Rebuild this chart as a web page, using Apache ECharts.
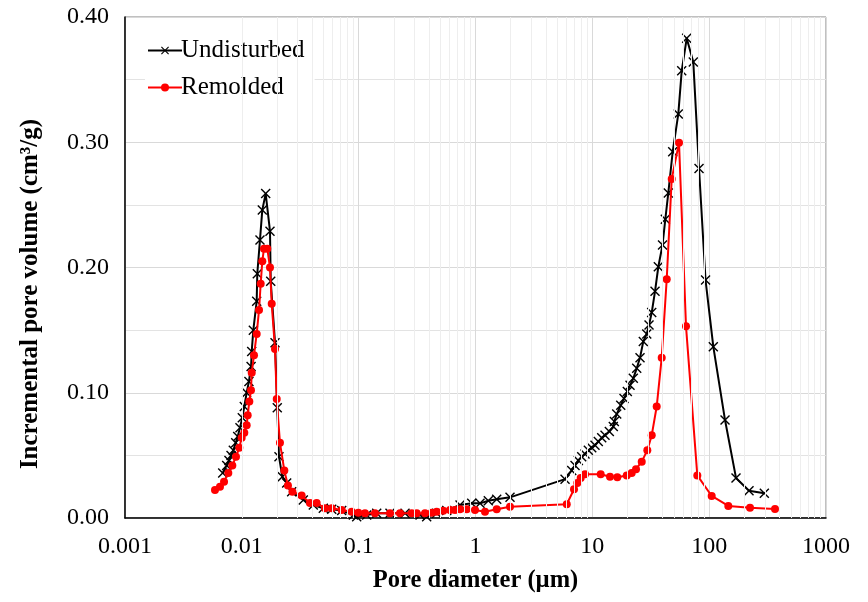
<!DOCTYPE html>
<html>
<head>
<meta charset="utf-8">
<script src="https://cdn.jsdelivr.net/npm/echarts@6/dist/echarts.min.js"></script>
<style>html,body{margin:0;padding:0;background:#fff}#c{width:868px;height:602px}</style>
</head>
<body>
<div id="c"></div>
<script>
// Undisturbed: pore diameter (µm) and incremental pore volume (cm³/g)
const undistD = [0.00686,0.00742,0.00776,0.00808,0.00845,0.00886,0.00922,0.00964,0.01009,0.0105,0.0110,0.0115,0.0120,0.01215,0.01254,0.0134,0.01356,0.0143,0.01497,0.0160,0.01742,0.01767,0.01923,0.0201,0.0208,0.0222,0.0242,0.0267,0.0336,0.0409,0.0498,0.0588,0.0716,0.090,0.0962,0.1172,0.1427,0.1854,0.2493,0.335,0.382,0.4656,0.567,0.737,0.928,1.093,1.287,1.519,1.974,5.84,6.66,7.11,7.59,8.11,8.66,9.24,9.88,10.54,11.25,12.03,12.84,13.98,15.12,15.43,16.17,17.50,18.67,19.93,21.02,22.42,23.98,25.59,27.31,29.21,30.56,32.23,34.40,36.71,39.88,42.13,44.7,48.75,54.44,58.21,64.23,73.16,81.88,93.1,108.5,136.7,169.7,219.3,296.6];
const undistV = [0.036,0.042,0.046,0.050,0.054,0.060,0.065,0.072,0.080,0.089,0.100,0.109,0.121,0.133,0.150,0.173,0.195,0.222,0.246,0.259,0.229,0.189,0.140,0.088,0.049,0.033,0.028,0.021,0.0144,0.0104,0.0077,0.0070,0.0060,0.0024,0.0010,0.0024,0.0037,0.0037,0.0037,0.0024,0.0010,0.0037,0.0060,0.0104,0.0117,0.0117,0.0138,0.0150,0.0165,0.031,0.038,0.042,0.046,0.049,0.051,0.054,0.056,0.058,0.061,0.064,0.066,0.069,0.073,0.077,0.083,0.090,0.0955,0.101,0.106,0.1115,0.1195,0.128,0.141,0.147,0.154,0.164,0.181,0.2006,0.218,0.2385,0.2595,0.2925,0.3226,0.357,0.383,0.364,0.279,0.190,0.1368,0.0782,0.032,0.0218,0.0197];
// Remolded
const remD = [0.00589,0.00650,0.00704,0.00766,0.00829,0.00891,0.00951,0.00997,0.0105,0.0110,0.01122,0.01159,0.01198,0.01215,0.01271,0.0134,0.01403,0.0145,0.01497,0.01548,0.01652,0.01742,0.01802,0.01923,0.01989,0.0212,0.0231,0.0248,0.0271,0.0325,0.0383,0.0437,0.0515,0.0588,0.0716,0.0872,0.0993,0.1133,0.138,0.1855,0.2258,0.2844,0.314,0.3697,0.4219,0.4656,0.530,0.605,0.668,0.737,0.841,0.990,1.206,1.519,1.974,6.04,6.97,7.44,7.95,8.66,11.79,14.17,16.36,19.70,21.73,23.65,26.47,29.55,32.23,35.56,39.25,43.32,47.80,55.20,63.36,79.17,105.1,145.8,223.7,366.1];
const remV = [0.0224,0.025,0.029,0.036,0.042,0.049,0.056,0.064,0.068,0.074,0.082,0.093,0.102,0.116,0.130,0.147,0.166,0.187,0.205,0.215,0.215,0.200,0.171,0.135,0.095,0.060,0.038,0.026,0.021,0.018,0.012,0.012,0.0077,0.0077,0.0064,0.0050,0.0042,0.0037,0.0037,0.0037,0.0037,0.0037,0.0037,0.0037,0.0042,0.0050,0.0058,0.0064,0.0064,0.0070,0.0070,0.0064,0.0050,0.0070,0.0090,0.011,0.023,0.028,0.032,0.035,0.035,0.033,0.0325,0.034,0.036,0.039,0.045,0.054,0.066,0.089,0.128,0.1906,0.2706,0.2997,0.153,0.034,0.0176,0.0096,0.0082,0.0072];
// Axis ticks
const xDecades = [0.001,0.01,0.1,1,10,100,1000];
const xMinorMult = [2,3,4,5,6,7,8,9];

const minorLines = [];
for (let i = 0; i < xDecades.length - 1; i++) {
  for (const m of xMinorMult) minorLines.push({xAxis: xDecades[i] * m});
}

const FONT = 'Liberation Serif';
const chart = echarts.init(document.getElementById('c'), null, {renderer: 'canvas'});
const xSym = 'path://M0,1 L1,0 L5,4 L9,0 L10,1 L6,5 L10,9 L9,10 L5,6 L1,10 L0,9 L4,5 Z';

chart.setOption({
  animation: false,
  backgroundColor: '#fff',
  textStyle: {fontFamily: FONT},
  grid: {left: 125, right: 42, top: 17, bottom: 84, show: true, borderColor: '#808080', borderWidth: 1, backgroundColor: 'transparent'},
  graphic: [{
    type: 'text', x: 31, y: 294, rotation: Math.PI / 2, z: 10,
    style: {text: 'Incremental pore volume (cm³/g)', fontFamily: FONT, fontSize: 25, fontWeight: 'bold', fill: '#000', align: 'center', verticalAlign: 'middle'}
  }],
  legend: {
    left: 145, top: 34, orient: 'vertical', itemGap: 12, itemWidth: 34, itemHeight: 10,
    backgroundColor: '#fff', padding: [4, 10, 4, 2],
    textStyle: {fontFamily: FONT, fontSize: 25, color: '#000', padding: [0, 0, 0, -6]},
    data: ['Undisturbed', 'Remolded']
  },
  xAxis: {
    type: 'log', logBase: 10, min: 0.001, max: 1000,
    name: 'Pore diameter (µm)', nameLocation: 'middle', nameGap: 50,
    nameTextStyle: {fontFamily: FONT, fontSize: 24.5, fontWeight: 'bold', color: '#000'},
    axisLine: {show: true, lineStyle: {color: '#000', width: 1.5}},
    axisTick: {show: false},
    axisLabel: {fontFamily: FONT, fontSize: 24, color: '#000', margin: 17, formatter: v => String(+v.toPrecision(3))},
    splitLine: {show: true, lineStyle: {color: '#d9d9d9', width: 1}},
    minorTick: {show: false}, minorSplitLine: {show: false}
  },
  yAxis: {
    type: 'value', min: 0, max: 0.40, interval: 0.10,
    axisLine: {show: true, lineStyle: {color: '#000', width: 1.5}},
    axisTick: {show: false},
    axisLabel: {fontFamily: FONT, fontSize: 24, color: '#000', margin: 16, formatter: v => v.toFixed(2)},
    splitLine: {show: true, lineStyle: {color: '#d9d9d9', width: 1}},
    minorTick: {show: false, splitNumber: 2},
    minorSplitLine: {show: true, lineStyle: {color: '#e3e3e3', width: 1}}
  },
  series: [
    {
      type: 'line', name: '_minor', data: [], silent: true, z: 0,
      markLine: {silent: true, symbol: 'none', label: {show: false}, animation: false,
        lineStyle: {color: '#eeeeee', width: 1, type: 'solid'}, data: minorLines}
    },
    {
      type: 'line', name: 'Undisturbed', z: 3,
      data: undistD.map((d, i) => [d, undistV[i]]),
      symbol: xSym, symbolSize: 10, showAllSymbol: true,
      lineStyle: {color: '#000', width: 2},
      itemStyle: {color: '#000'}
    },
    {
      type: 'line', name: 'Remolded', z: 4,
      data: remD.map((d, i) => [d, remV[i]]),
      symbol: 'circle', symbolSize: 8, showAllSymbol: true,
      lineStyle: {color: '#ff0000', width: 2},
      itemStyle: {color: '#ff0000'}
    }
  ]
});
</script>
</body>
</html>
